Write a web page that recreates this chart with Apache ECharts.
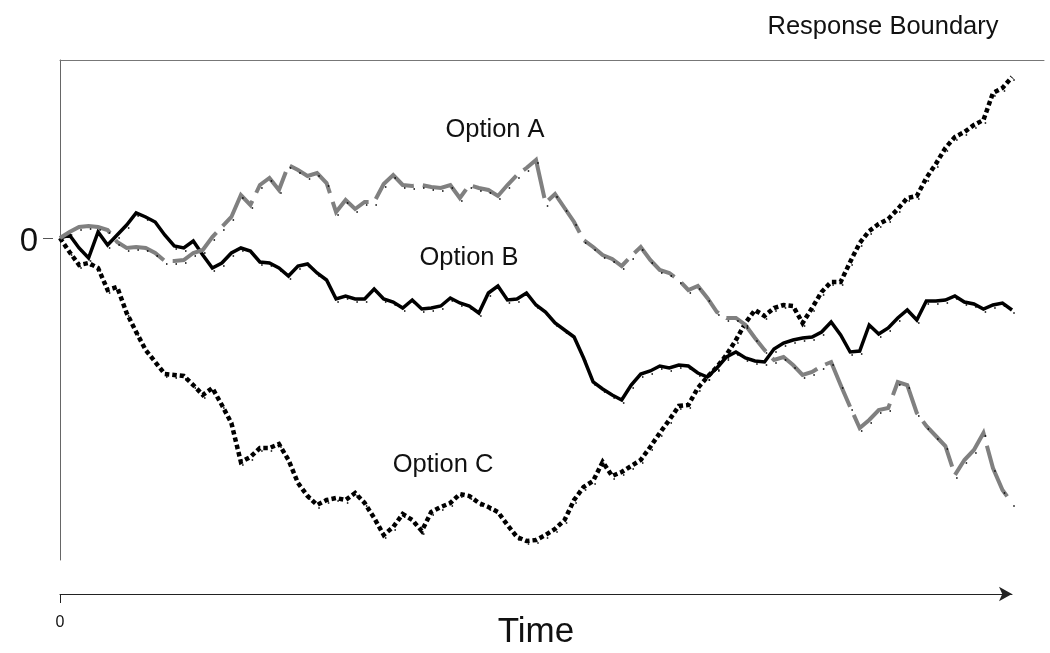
<!DOCTYPE html>
<html>
<head>
<meta charset="utf-8">
<script src="https://cdn.jsdelivr.net/npm/echarts@6/dist/echarts.min.js"></script>
<style>
    html, body { margin: 0; padding: 0; background: #fff; }
    #chart { width: 1050px; height: 653px; }
</style>
</head>
<body>
<div id="chart"></div>
<script>
// accumulated evidence, one value per time step (0..100), 0 = start level
var optionA = [0, 6, 11, 12, 11, 8, -4, -10, -9, -10,
    -15, -23, -23, -22, -15, -12, 1, 11, 21, 43,
    33, 53, 60, 48, 73, 68, 62, 65, 55, 26,
    38, 29, 36, 36, 54, 63, 53, 52, 53, 51,
    50, 53, 40, 53, 50, 48, 42, 53, 63, 70,
    78, 35, 44, 30, 16, -2, -9, -17, -21, -28,
    -18, -9, -22, -32, -35, -42, -52, -48, -60, -74,
    -80, -80, -87, -100, -112, -122, -119, -127, -137, -134,
    -128, -124, -147, -169, -190, -182, -172, -170, -144, -147,
    -175, -188, -198, -208, -237, -222, -212, -195, -230, -252,
    -265];
var optionB = [0, 3, -10, -20, 6, -7, 3, 13, 25, 21,
    16, 3, -8, -10, -3, -17, -30, -25, -15, -10,
    -13, -24, -25, -30, -38, -28, -26, -35, -42, -61,
    -58, -61, -61, -51, -61, -64, -70, -62, -71, -70,
    -68, -60, -65, -68, -75, -55, -48, -62, -61, -55,
    -67, -74, -85, -92, -99, -120, -144, -151, -157, -162,
    -147, -136, -133, -128, -130, -127, -128, -135, -139, -130,
    -119, -114, -120, -123, -124, -111, -105, -102, -100, -99,
    -94, -84, -97, -114, -113, -87, -96, -90, -80, -72,
    -82, -63, -63, -62, -58, -64, -66, -71, -67, -65,
    -72];
var optionC = [0, -14, -27, -25, -30, -52, -49, -75, -94, -112,
    -124, -136, -137, -138, -147, -157, -150, -167, -185, -224,
    -219, -210, -210, -206, -222, -245, -258, -267, -262, -260,
    -262, -255, -265, -280, -297, -289, -276, -282, -293, -274,
    -269, -265, -256, -258, -265, -269, -274, -287, -299, -303,
    -302, -297, -291, -282, -262, -249, -243, -224, -238, -234,
    -228, -222, -209, -195, -182, -168, -167, -150, -139, -129,
    -117, -102, -85, -72, -78, -70, -67, -68, -85, -70,
    -54, -44, -44, -24, -5, 7, 14, 19, 29, 40,
    42, 60, 74, 90, 101, 106, 113, 118, 145, 150,
    161];
var yMin = -322, yMax = 178;      // boundary sits at yMax
var timeTicks = [0];
var startTicks = [0];

function pairs(arr) {
    var out = [];
    for (var i = 0; i < arr.length; i++) out.push([i, arr[i]]);
    return out;
}

function walk(name, data, color, width, dash) {
    return {
        name: name,
        type: 'line',
        xAxisIndex: 0,
        yAxisIndex: 0,
        data: pairs(data),
        showSymbol: true,
        showAllSymbol: true,
        symbol: 'rect',
        symbolSize: 1.5,
        symbolOffset: [2, 3],
        itemStyle: { color: '#000' },
        lineStyle: { color: color, width: width, type: dash, cap: 'butt', join: 'miter' },
        emphasis: { disabled: true },
        silent: true
    };
}

var chart = echarts.init(document.getElementById('chart'));
var font = '"Liberation Sans", Arial, sans-serif';
var option = {
    animation: false,
    backgroundColor: '#fff',
    grid: [
        { left: 60, right: 38, top: 60, bottom: 93, outerBoundsMode: 'none', containLabel: false },
        { left: 60, right: 6, top: 60, height: 1, outerBoundsMode: 'none', containLabel: false }
    ],
    xAxis: [
        {
            type: 'value', gridIndex: 0, min: 0, max: 100, position: 'bottom', offset: 34,
            axisLine: { show: true, onZero: false, lineStyle: { color: '#222', width: 1 }, symbol: ['none', 'arrow'], symbolSize: [11, 13] },
            axisTick: { show: true, customValues: timeTicks, length: 9, lineStyle: { color: '#222' } },
            axisLabel: { show: true, customValues: timeTicks, margin: 21, fontSize: 16, color: '#111', fontFamily: font },
            splitLine: { show: false },
            name: 'Time', nameLocation: 'middle', nameGap: 21, nameMoveOverlap: false,
            nameTextStyle: { fontSize: 35, color: '#111', fontFamily: font }
        },
        {
            type: 'value', gridIndex: 1, min: 0, max: 1, position: 'top',
            axisLine: { show: true, onZero: false, lineStyle: { color: '#777', width: 1 } },
            axisTick: { show: false }, axisLabel: { show: false }, splitLine: { show: false }
        }
    ],
    yAxis: [
        {
            type: 'value', gridIndex: 0, min: yMin, max: yMax,
            axisLine: { show: true, onZero: false, lineStyle: { color: '#666', width: 1 } },
            axisTick: { show: false }, axisLabel: { show: false }, splitLine: { show: false }
        },
        {
            type: 'value', gridIndex: 0, min: yMin, max: yMax, position: 'left', offset: 7,
            axisLine: { show: false, onZero: false },
            axisTick: { show: true, customValues: startTicks, length: 10, lineStyle: { color: '#555' } },
            axisLabel: { show: true, customValues: startTicks, margin: 15, fontSize: 33, color: '#111', fontFamily: font, verticalAlign: 'top', lineHeight: 8 },
            splitLine: { show: false }
        },
        { type: 'value', gridIndex: 1, show: false }
    ],
    graphic: [
        { type: 'text', x: 883, y: 27, style: { text: 'Response Boundary', font: '25.5px ' + font, fill: '#111', textAlign: 'center', textVerticalAlign: 'middle' } },
        { type: 'text', x: 495, y: 130, style: { text: 'Option A', font: '25.5px ' + font, fill: '#111', textAlign: 'center', textVerticalAlign: 'middle' } },
        { type: 'text', x: 469, y: 258, style: { text: 'Option B', font: '25.5px ' + font, fill: '#111', textAlign: 'center', textVerticalAlign: 'middle' } },
        { type: 'text', x: 443, y: 465, style: { text: 'Option C', font: '25.5px ' + font, fill: '#111', textAlign: 'center', textVerticalAlign: 'middle' } }
    ],
    series: [
        walk('Option C', optionC, '#000', 4.5, [4.5, 3]),
        walk('Option B', optionB, '#000', 3.5, 'solid'),
        walk('Option A', optionA, '#808080', 4, [55, 9])
    ]
};
chart.setOption(option);
</script>
</body>
</html>
